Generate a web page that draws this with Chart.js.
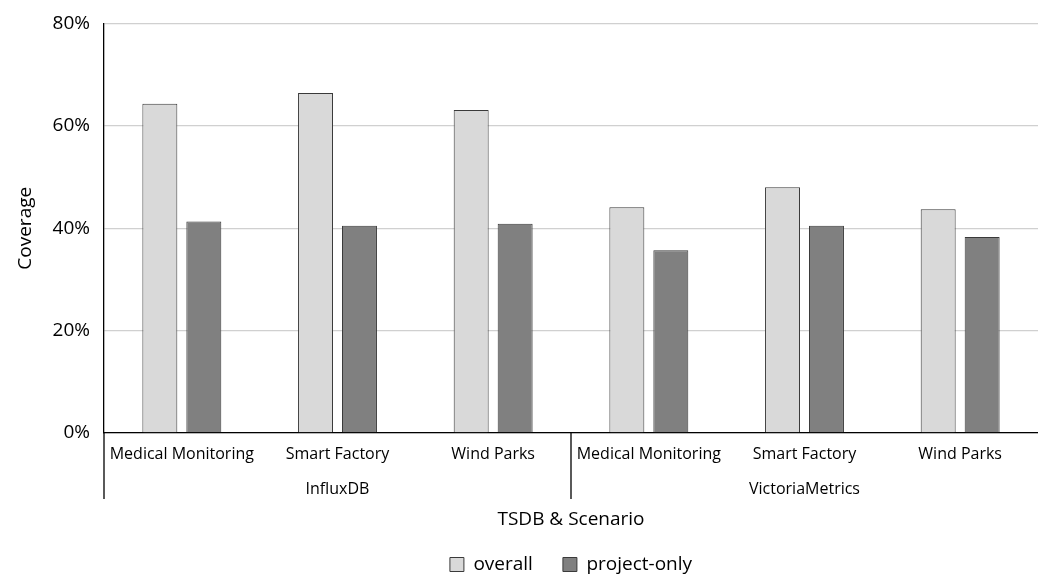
<!DOCTYPE html>
<html>
<head>
<meta charset="utf-8">
<script src="https://cdn.jsdelivr.net/npm/chart.js@4"></script>
<style>
  html, body { margin: 0; padding: 0; background: #fff; }
  #wrap { width: 1038px; height: 575px; }
</style>
</head>
<body>
<div id="wrap"><canvas id="coverageChart"></canvas></div>
<script>
// Data
const scenarios = ['Medical Monitoring', 'Smart Factory', 'Wind Parks',
                   'Medical Monitoring', 'Smart Factory', 'Wind Parks'];
const databases = ['InfluxDB', 'VictoriaMetrics'];
const overall = [64.3, 66.4, 63.1, 44.1, 48.0, 43.7];
const projectOnly = [41.3, 40.5, 40.9, 35.7, 40.5, 38.3];
const yTicks = [0, 20, 40, 60, 80];

const FONT = "'Open Sans', 'Liberation Sans', sans-serif";

// vertical separator lines between the database groups
const groupLines = {
    id: 'groupLines',
    afterDraw(chart) {
        const x = chart.scales.x;
        const x2 = chart.scales.x2;
        const ctx = chart.ctx;
        const perGroup = scenarios.length / databases.length;
        const bottom = x2.top + 31;
        ctx.save();
        ctx.strokeStyle = '#000';
        ctx.lineWidth = 1.3;
        for (let g = 0; g < databases.length; g++) {
            const i = g * perGroup;
            const px = i === 0 ? x.left
                : (x.getPixelForValue(i - 1) + x.getPixelForValue(i)) / 2;
            ctx.beginPath();
            ctx.moveTo(px, x.top);
            ctx.lineTo(px, bottom);
            ctx.stroke();
        }
        ctx.restore();
    }
};

new Chart(document.getElementById('coverageChart'), {
    type: 'bar',
    data: {
        labels: scenarios,
        datasets: [
            {
                label: 'overall',
                data: overall,
                backgroundColor: '#d9d9d9',
                borderColor: '#3a3a3a',
                borderWidth: 1
            },
            {
                label: 'project-only',
                data: projectOnly,
                backgroundColor: '#808080',
                borderColor: '#3a3a3a',
                borderWidth: 1
            }
        ]
    },
    options: {
        responsive: true,
        maintainAspectRatio: false,
        animation: false,
        categoryPercentage: 0.565,
        barPercentage: 0.795,
        // negative bottom padding: legend needs wide gaps between items but sits close to the edge
        layout: { padding: { top: 0, right: 0, left: 0, bottom: -9 } },
        plugins: {
            tooltip: { enabled: false },
            legend: {
                position: 'bottom',
                fullSize: false,
                labels: {
                    color: '#000',
                    font: { family: FONT, size: 19 },
                    boxWidth: 14,
                    boxHeight: 14,
                    padding: 30
                }
            }
        },
        scales: {
            y: {
                min: 0,
                max: 80,
                afterBuildTicks: (scale) => {
                    scale.ticks = yTicks.map(v => ({ value: v }));
                },
                afterFit: (scale) => { scale.width = 104; },
                ticks: {
                    color: '#000',
                    padding: 14,
                    font: { family: FONT, size: 19, lineHeight: 1 },
                    callback: (v) => v + '%'
                },
                grid: { color: '#d0d0d0', lineWidth: 1.3, drawTicks: false },
                border: { color: '#000', width: 1.3 },
                title: {
                    display: true,
                    text: 'Coverage',
                    color: '#000',
                    font: { family: FONT, size: 19 },
                    padding: { top: 14, bottom: 0 }
                }
            },
            x: {
                position: 'bottom',
                grid: { display: false, drawTicks: false },
                border: { color: '#000', width: 1.3 },
                afterFit: (scale) => { scale.height = 35; },
                ticks: {
                    color: '#000',
                    padding: 12,
                    maxRotation: 0,
                    autoSkip: false,
                    font: { family: FONT, size: 16 }
                }
            },
            x2: {
                type: 'category',
                labels: databases,
                position: 'bottom',
                offset: true,
                grid: { display: false, drawTicks: false },
                border: { display: false },
                afterFit: (scale) => { scale.height = 57; },
                ticks: {
                    color: '#000',
                    padding: 12,
                    font: { family: FONT, size: 16 }
                },
                title: {
                    display: true,
                    text: 'TSDB & Scenario',
                    color: '#000',
                    font: { family: FONT, size: 19 },
                    padding: { top: 0, bottom: -6 }
                }
            }
        }
    },
    plugins: [groupLines]
});
</script>
</body>
</html>
